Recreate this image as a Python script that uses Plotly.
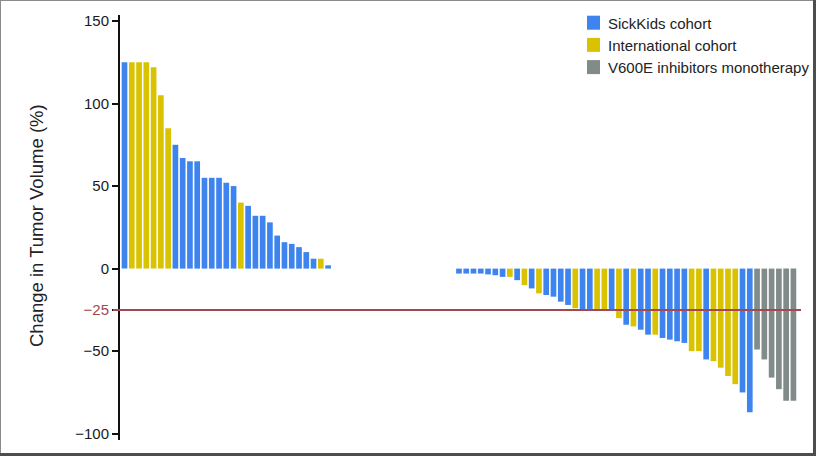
import plotly.graph_objects as go

# ---------------- data ----------------
left_change = [125, 125, 125, 125, 122, 105, 85, 75, 67, 65, 65, 55, 55, 55, 52, 50,
               40, 38, 32, 32, 28, 20, 16, 15, 13, 10, 6, 6, 2]
left_cohort = ["S", "I", "I", "I", "I", "I", "I", "S", "S", "S", "S", "S", "S", "S", "S", "S",
               "I", "S", "S", "S", "S", "S", "S", "S", "S", "S", "S", "I", "S"]
gap_slots = 17
right_change = [-3, -3, -3, -3, -3.5, -4, -5, -5, -7, -10, -12, -15, -16, -17, -20, -22,
                -24, -25, -25, -25, -25, -25, -30, -34, -35, -37, -40, -40, -42, -43, -44, -45,
                -50, -50, -55, -56, -60, -65, -70, -75, -87, -49, -55, -66, -73, -80, -80]
right_cohort = ["S", "S", "S", "S", "S", "S", "S", "I", "S", "I", "S", "I", "S", "S", "S", "S",
                "I", "S", "S", "I", "I", "S", "I", "S", "I", "S", "S", "I", "S", "S", "S", "S",
                "I", "I", "S", "I", "I", "I", "I", "S", "S", "V", "V", "V", "V", "V", "V"]

cohort_names = {"S": "SickKids cohort", "I": "International cohort",
                "V": "V600E inhibitors monotherapy"}
cohort_colors = {"S": "#3d84ef", "I": "#d9c300", "V": "#808b8a"}

tick_vals = [150, 100, 50, 0, -25, -50, -100]
tick_text = ["150", "100", "50", "0", "<span style='color:#a34751'>−25</span>", "−50", "−100"]
threshold = -25

# ---------------- layout helpers ----------------
W, H = 816, 456
ML, MR, MT, MB = 120, 14, 15, 16
PW, PH = W - ML - MR, H - MT - MB


def px_x(p):
    return (p - ML) / PW


def px_y(p):
    return (H - MB - p) / PH


FONT = "Liberation Sans, Arial, Helvetica, sans-serif"

# positions of every patient slot
values = left_change + [None] * gap_slots + right_change
cohorts = left_cohort + [None] * gap_slots + right_cohort
positions = list(range(len(values)))

fig = go.Figure()
for key in ["S", "I", "V"]:
    xs = [p for p, c in zip(positions, cohorts) if c == key]
    ys = [v for v, c in zip(values, cohorts) if c == key]
    fig.add_trace(go.Bar(
        x=xs, y=ys, name=cohort_names[key],
        marker=dict(color=cohort_colors[key], line=dict(width=0)),
        width=0.78, showlegend=False, hoverinfo="x+y",
    ))

shapes = []
# threshold line
shapes.append(dict(type="line", xref="paper", yref="y",
                   x0=px_x(113), x1=px_x(801), y0=threshold, y1=threshold,
                   line=dict(color="#a34751", width=2)))

# manual legend
legend_tops = [15.7, 37.9, 60.1]
annotations = []
for key, top in zip(["S", "I", "V"], legend_tops):
    shapes.append(dict(type="rect", xref="paper", yref="paper",
                       x0=px_x(587), x1=px_x(600), y0=px_y(top + 14), y1=px_y(top),
                       fillcolor=cohort_colors[key], line=dict(width=0)))
    annotations.append(dict(xref="paper", yref="paper", x=px_x(606), y=px_y(top + 7.5),
                            xanchor="left", yanchor="middle", showarrow=False,
                            text=cohort_names[key],
                            font=dict(family=FONT, size=15, color="#222222")))

# y axis title
annotations.append(dict(xref="paper", yref="paper", x=px_x(36), y=px_y(226),
                        xanchor="center", yanchor="middle", showarrow=False,
                        textangle=-90, text="Change in Tumor Volume (%)",
                        font=dict(family=FONT, size=18.5, color="#222222")))

# picture frame
shapes += [
    dict(type="rect", xref="paper", yref="paper", x0=px_x(0), x1=px_x(1),
         y0=px_y(456), y1=px_y(0), fillcolor="#8a8a8a", line=dict(width=0)),
    dict(type="rect", xref="paper", yref="paper", x0=px_x(0), x1=px_x(816),
         y0=px_y(1), y1=px_y(0), fillcolor="#8a8a8a", line=dict(width=0)),
    dict(type="rect", xref="paper", yref="paper", x0=px_x(813), x1=px_x(816),
         y0=px_y(456), y1=px_y(0), fillcolor="#4d4d4d", line=dict(width=0)),
    dict(type="rect", xref="paper", yref="paper", x0=px_x(0), x1=px_x(816),
         y0=px_y(456), y1=px_y(453), fillcolor="#4d4d4d", line=dict(width=0)),
]

fig.update_layout(
    width=W, height=H,
    margin=dict(l=ML, r=MR, t=MT, b=MB, pad=0),
    paper_bgcolor="white", plot_bgcolor="white",
    barmode="overlay",
    shapes=shapes, annotations=annotations,
    font=dict(family=FONT, size=15, color="#1a1a1a"),
    xaxis=dict(range=[-0.62, 93.18], visible=False, showgrid=False, zeroline=False),
    yaxis=dict(range=[-103.8, 153.6], showgrid=False, zeroline=False,
               showline=True, linecolor="#111111", linewidth=2,
               ticks="outside", ticklen=6, tickwidth=1.5, tickcolor="#111111",
               tickvals=tick_vals, ticktext=tick_text,
               tickfont=dict(family=FONT, size=15, color="#1a1a1a")),
)

fig.write_html("out.html",
               config={"displayModeBar": False},
               post_script="document.body.style.margin='0px';"
                           "document.body.style.overflow='hidden';")
